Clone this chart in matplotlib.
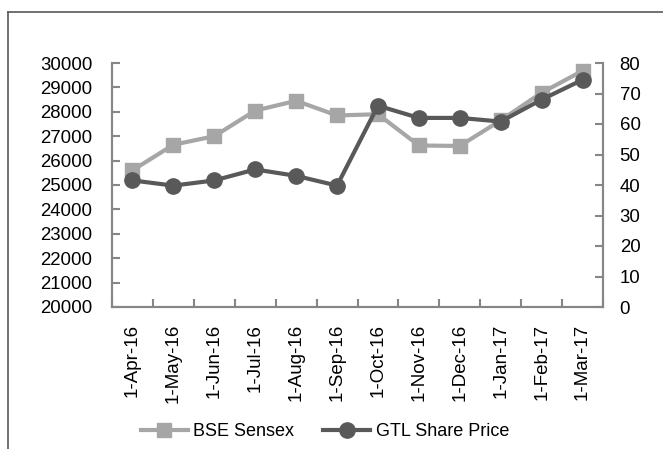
import matplotlib
matplotlib.use("Agg")
import matplotlib.pyplot as plt
from matplotlib.lines import Line2D

plt.rcParams['font.family'] = ['Liberation Sans', 'DejaVu Sans']

categories = ["1-Apr-16", "1-May-16", "1-Jun-16", "1-Jul-16", "1-Aug-16", "1-Sep-16",
              "1-Oct-16", "1-Nov-16", "1-Dec-16", "1-Jan-17", "1-Feb-17", "1-Mar-17"]
bse_sensex = [25600, 26650, 27000, 28050, 28450, 27850, 27900, 26620, 26600, 27650, 28780, 29680]
gtl_price = [41.5, 39.8, 41.5, 45.1, 43.0, 39.8, 66.0, 62.0, 62.0, 60.8, 68.0, 74.5]
left_ticks = list(range(20000, 30001, 1000))
right_ticks = list(range(0, 81, 10))

light = "#a6a6a6"
dark = "#595959"
axis_gray = "#868686"

fig = plt.figure(figsize=(6.63, 4.49), dpi=100)
ax = fig.add_axes([112/663, 1-307/449, (603-112)/663, (307-63)/449])
ax2 = ax.twinx()

x = list(range(len(categories)))
l1, = ax.plot(x, bse_sensex, color=light, lw=3, marker='s', ms=10.5, label="BSE Sensex", zorder=2)
l2, = ax2.plot(x, gtl_price, color=dark, lw=3, marker='o', ms=11, label="GTL Share Price", zorder=3)

ax.set_xlim(-0.5, len(categories) - 0.5)
ax.set_ylim(20000, 30000)
ax2.set_ylim(0, 80)
ax.set_yticks(left_ticks)
ax2.set_yticks(right_ticks)

ax.set_xticks([i + 0.5 for i in range(-1, len(categories))])
ax.set_xticklabels([])
ax.set_xticks(x, minor=True)
ax.set_xticklabels(categories, minor=True, rotation=90, fontsize=13.5)
ax.tick_params(axis='x', which='minor', length=0, pad=12)
ax.tick_params(axis='x', which='major', direction='in', length=6, color=axis_gray, width=1.5)
ax.tick_params(axis='y', direction='in', length=6, color=axis_gray, width=1.5, labelsize=13.4, pad=14)
ax2.tick_params(axis='y', direction='in', length=6, color=axis_gray, width=1.5, labelsize=13.4, pad=12)

for a in (ax, ax2):
    for s in a.spines.values():
        s.set_color(axis_gray)
        s.set_linewidth(1.5)
ax.spines['top'].set_visible(False)
ax2.spines['top'].set_visible(False)

fig.legend(handles=[l1, l2], loc='center', bbox_to_anchor=(325/663, 1-432/449), ncol=2,
           frameon=False, fontsize=13, handlelength=2.6, columnspacing=1.6, handletextpad=0.3)

# outer chart border (cropped)
fig.add_artist(Line2D([8/663, 8/663], [0, 1-12/449], transform=fig.transFigure, color="#595959", lw=1.2))
fig.add_artist(Line2D([8/663, 1], [1-12/449, 1-12/449], transform=fig.transFigure, color="#595959", lw=1.2))

fig.savefig("out.png", dpi=100)
